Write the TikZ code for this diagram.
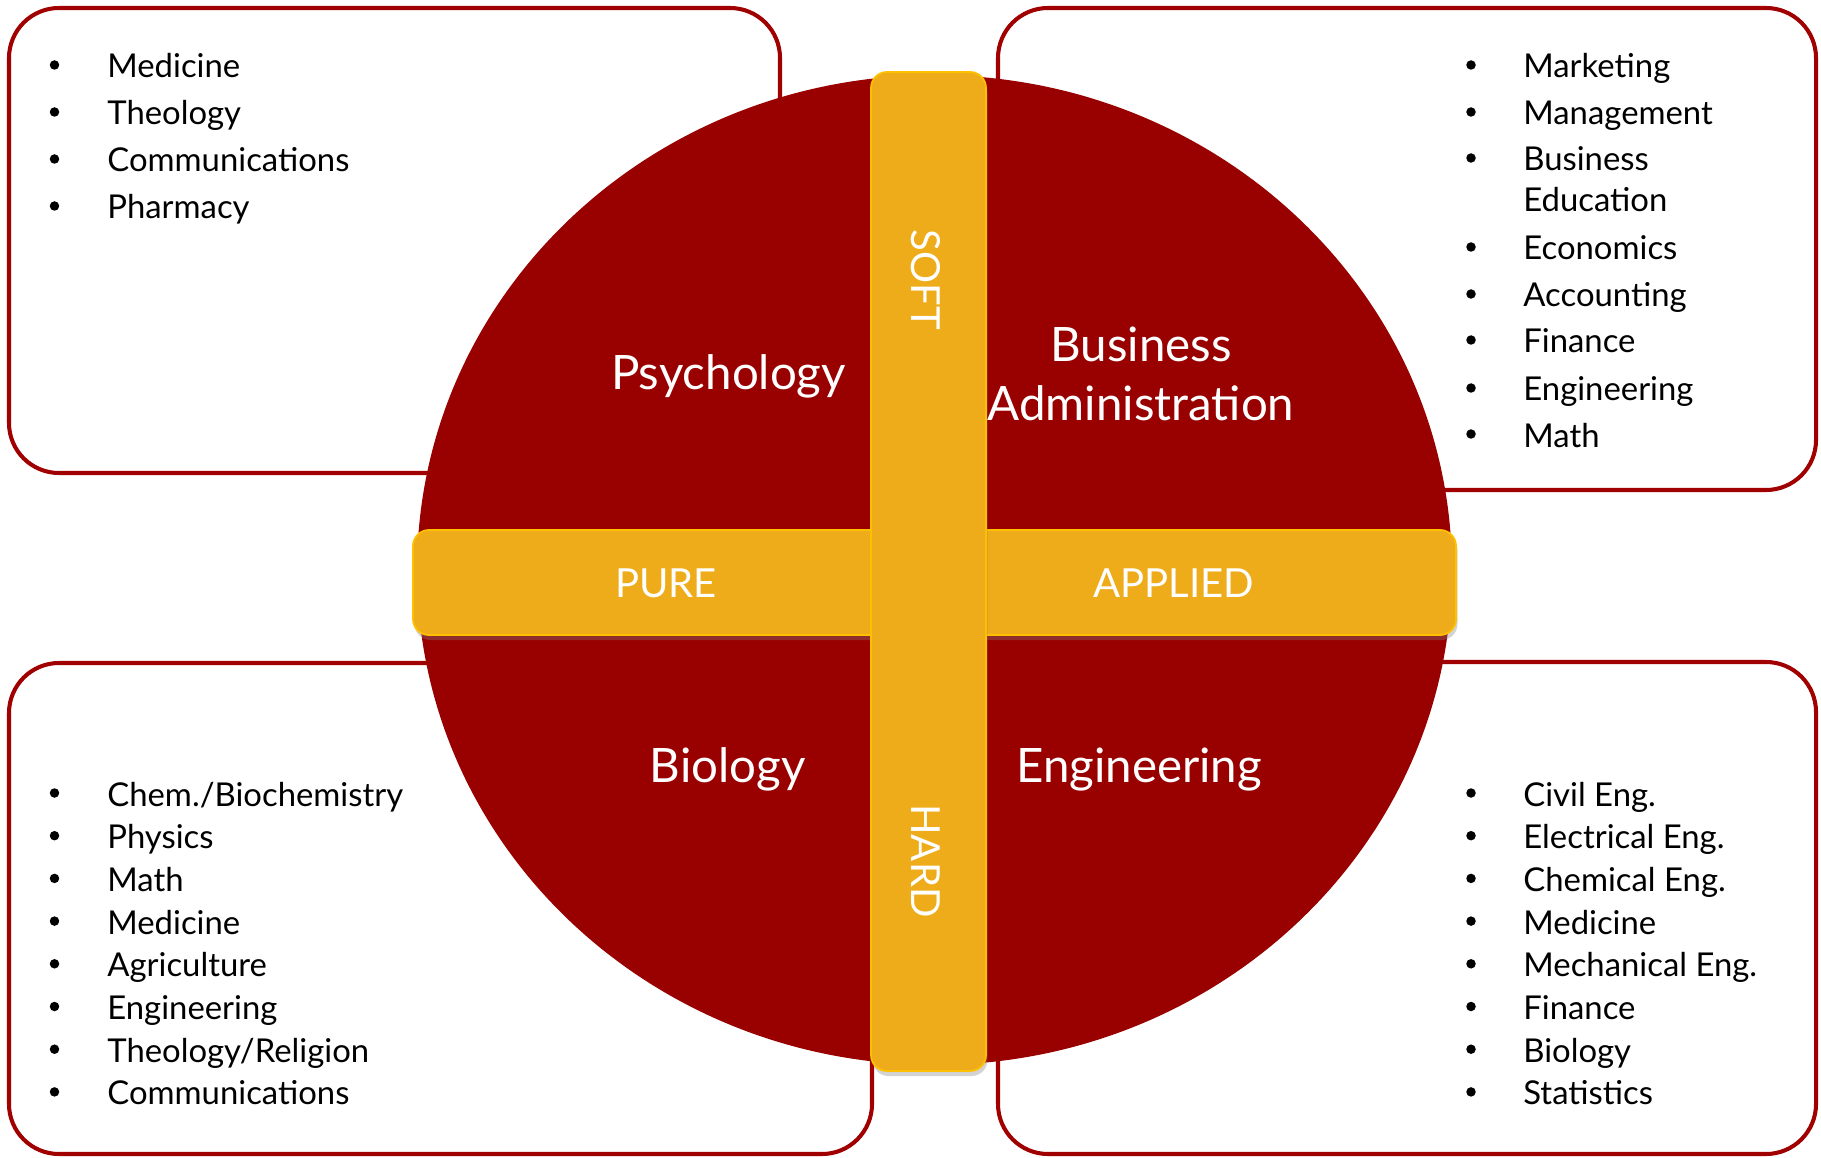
\documentclass[tikz,border=0pt]{standalone}
\usepackage{fontspec}
\setmainfont{Lato}
\usetikzlibrary{shadows}
\definecolor{piered}{RGB}{153,0,0}
\definecolor{framered}{RGB}{160,0,0}
\definecolor{bargold}{RGB}{238,172,26}
\definecolor{baredge}{RGB}{255,192,0}
\tikzset{
    frame/.style={draw=framered,line width=2.3pt,rounded corners=1cm,fill=white},
    bar/.style={fill=bargold,draw=baredge,line width=1pt,rounded corners=0.32cm,
        drop shadow={shadow xshift=0.03cm,shadow yshift=-0.1cm,opacity=0.35}},
    item/.style={anchor=base west,inner sep=0pt,font=\fontsize{18.7}{22}\selectfont},
    bul/.style={circle,fill=black,inner sep=0pt,minimum size=0.19cm},
    lbl/.style={text=white,inner sep=0pt,font=\fontsize{27}{32}\selectfont},
    caps/.style={text=white,inner sep=0pt,font=\fontsize{22.8}{27}\selectfont}
}
\begin{document}
\begin{tikzpicture}[x=0.02cm,y=-0.02cm]
\useasboundingbox (0,0) rectangle (1821,1158);
% frames
\draw[frame] (9,8) rectangle (780,473);
\draw[frame] (998,8) rectangle (1816,490);
\draw[frame] (9,663) rectangle (872,1154);
\draw[frame] (998,662) rectangle (1816,1154);
% pie
\fill[piered] (934.5,570) ellipse [x radius=10.35cm,y radius=9.9cm];
% bars
\draw[bar] (413,530) rectangle (1456,635);
\draw[bar] (871,72) rectangle (986,1071);

\node[lbl,anchor=base] (psy) at (728.5,390) {Psychology};
\node[lbl,anchor=base] (bus) at (1141,362) {Business};
\node[lbl,anchor=base] (adm) at (1141,420) {Administration};
\node[lbl,anchor=base] (bio) at (727.6,782) {Biology};
\node[lbl,anchor=base] (eng) at (1139,782) {Engineering};
\node[caps] (pure) at (666,583) {PURE};
\node[caps] (appl) at (1174,583) {APPLIED};
\node[caps,rotate=-90] (soft) at (926,280) {SOFT};
\node[caps,rotate=-90] (hard) at (926,861) {HARD};

% top left list
\foreach \t/\y [count=\i] in {Medicine/78,Theology/125,Communications/172,Pharmacy/219}
{
    \node[bul] (tlb\i) at (54.5,\y-13) {};
    \node[item] (tl\i) at (107,\y) {\t};
}
% top right list
\foreach \t/\y [count=\i] in {Marketing/78,Management/125,Business/171,Economics/260,Accounting/307,Finance/353,Engineering/401,Math/447}
{
    \node[bul] (trb\i) at (1471,\y-13) {};
    \node[item] (tr\i) at (1523,\y) {\t};
}
\node[item] (tr3b) at (1523,212) {Education};
% bottom left list
\foreach \t [count=\i] in {Chem./Biochemistry,Physics,Math,Medicine,Agriculture,Engineering,Theology/Religion,Communications}
{
    \node[bul] (blb\i) at (54.5,750.3+42.7*\i) {};
    \node[item] (bl\i) at (107,763.3+42.7*\i) {\t};
}
% bottom right list
\foreach \t [count=\i] in {Civil Eng.,Electrical Eng.,Chemical Eng.,Medicine,Mechanical Eng.,Finance,Biology,Statistics}
{
    \node[bul] (brb\i) at (1471,750.3+42.7*\i) {};
    \node[item] (br\i) at (1523,763.3+42.7*\i) {\t};
}
\end{tikzpicture}
\end{document}
